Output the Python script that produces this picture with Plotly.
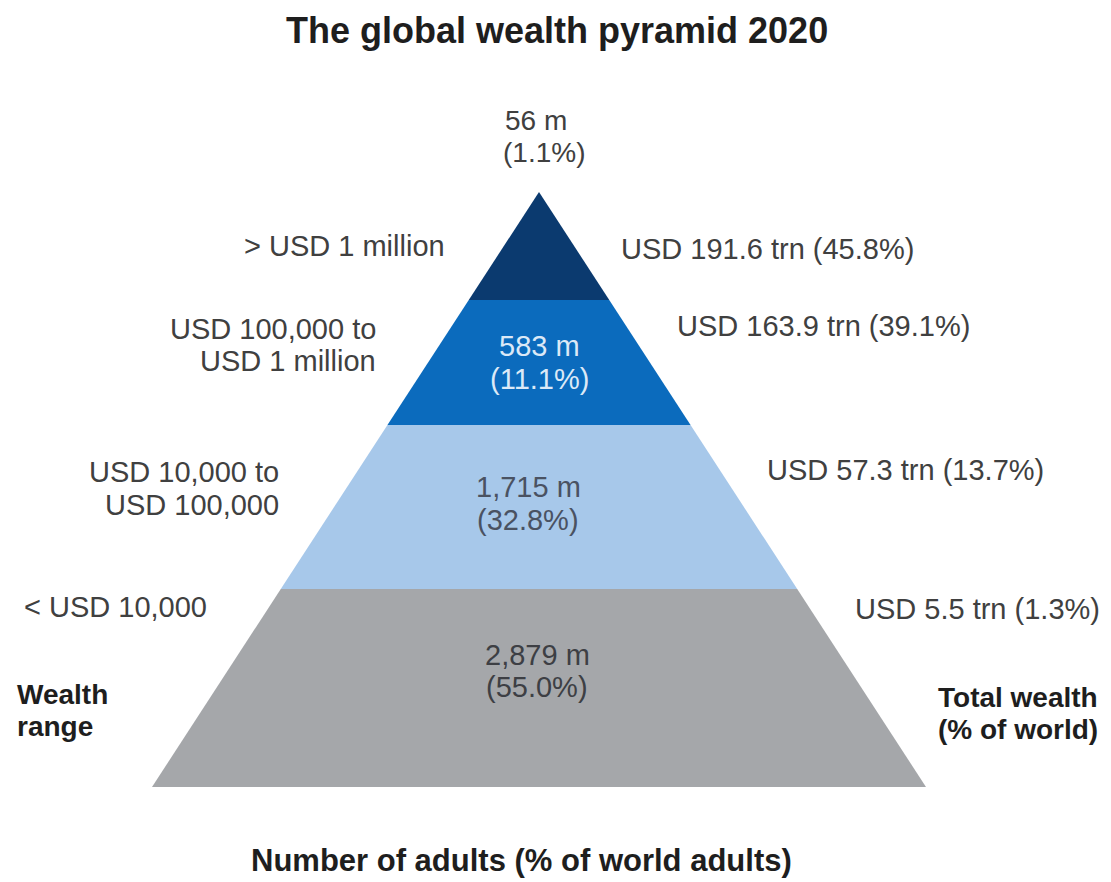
import plotly.graph_objects as go

# ---------------- data ----------------
wealth_ranges = [
    ["> USD 1 million"],
    ["USD 100,000 to", "USD 1 million"],
    ["USD 10,000 to", "USD 100,000"],
    ["< USD 10,000"],
]
adults_m = ["56", "583", "1,715", "2,879"]
adults_pct = ["1.1", "11.1", "32.8", "55.0"]
wealth_trn = ["191.6", "163.9", "57.3", "5.5"]
wealth_pct = ["45.8", "39.1", "13.7", "1.3"]

# ---------------- layout / style ----------------
W, H = 1111, 882
apex_x, apex_y = 539, 192
base_y, half_base = 787, 387
tier_bottoms = [300, 425, 589, 787]
tier_colors = ["#0b3a6f", "#0b6bbd", "#a7c8ea", "#a5a7aa"]
inner_colors = [None, "#dbe9f7", "#4a5262", "#3d3f44"]
txt = "#404040"
FONT = "Liberation Sans, Arial, Helvetica, sans-serif"
REG = 29
BOLD = 28


def half_width(y):
    return half_base * (y - apex_y) / (base_y - apex_y)


fig = go.Figure()

tops = [apex_y] + tier_bottoms[:-1]
for i, (yt, yb) in enumerate(zip(tops, tier_bottoms)):
    wt, wb = half_width(yt), half_width(yb)
    xs = [apex_x - wt, apex_x + wt, apex_x + wb, apex_x - wb, apex_x - wt]
    ys = [yt, yt, yb, yb, yt]
    fig.add_trace(go.Scatter(x=xs, y=ys, fill="toself", mode="lines",
                             line=dict(width=0, color=tier_colors[i]),
                             fillcolor=tier_colors[i], hoverinfo="skip",
                             showlegend=False))

ann = []


def add(text, x, y, xanchor="center", size=REG, color=txt, bold=False):
    t = f"<b>{text}</b>" if bold else text
    ann.append(dict(text=t, x=x, y=y, xref="x", yref="y", xanchor=xanchor,
                    yanchor="middle", showarrow=False,
                    font=dict(family=FONT, size=size, color=color)))


# title and axis captions
add("The global wealth pyramid 2020", 557, 30, size=36, color="#1e1e1e", bold=True)
add("Number of adults (% of world adults)", 521, 860, size=31, color="#1e1e1e", bold=True)
add("Wealth", 15, 694, xanchor="left", size=BOLD, color="#1e1e1e", bold=True)
add("range", 15, 726, xanchor="left", size=BOLD, color="#1e1e1e", bold=True)
add("Total wealth", 1100, 697, xanchor="right", size=BOLD, color="#1e1e1e", bold=True)
add("(% of world)", 1100, 729, xanchor="right", size=BOLD, color="#1e1e1e", bold=True)

# left wealth range labels
left_pos = [(447, [246]), (378, [329, 361]), (281, [472, 505]), (None, [607])]
for rng, (xr, ys) in zip(wealth_ranges, left_pos):
    for line, y in zip(rng, ys):
        if xr is None:
            add(line, 22, y, xanchor="left")
        else:
            add(line, xr, y, xanchor="right")

# right total wealth labels
right_pos = [(619, 249), (675, 326), (765, 470), (853, 609)]
for wt, wp, (x, y) in zip(wealth_trn, wealth_pct, right_pos):
    add(f"USD {wt} trn ({wp}%)", x, y, xanchor="left")

# number of adults labels
add(f"{adults_m[0]} m", 503, 120, xanchor="left", size=28)
add(f"({adults_pct[0]}%)", 501, 152, xanchor="left", size=28)
inner_pos = [None, (539, 346, 379), (528, 487, 520), (537, 655, 687)]
for i in range(1, 4):
    cx, y1, y2 = inner_pos[i]
    add(f"{adults_m[i]} m", cx, y1, color=inner_colors[i])
    add(f"({adults_pct[i]}%)", cx, y2, color=inner_colors[i])

fig.update_layout(
    width=W, height=H,
    margin=dict(l=0, r=0, t=0, b=0),
    paper_bgcolor="white", plot_bgcolor="white",
    xaxis=dict(range=[0, W], visible=False, fixedrange=True),
    yaxis=dict(range=[H, 0], visible=False, fixedrange=True),
    annotations=ann,
)

fig.write_html("out.html", config={"displayModeBar": False},
               post_script="document.body.style.margin='0';")
